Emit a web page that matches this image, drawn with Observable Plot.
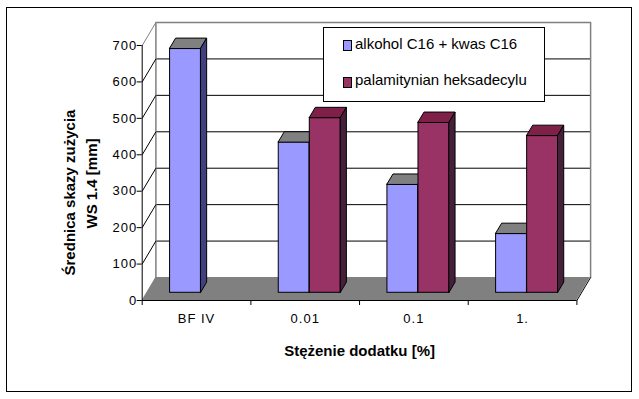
<!DOCTYPE html>
<html><head><meta charset="utf-8">
<script src="https://cdn.jsdelivr.net/npm/d3@7"></script>
<script src="https://cdn.jsdelivr.net/npm/@observablehq/plot@0.6"></script>
<style>
body{margin:0;background:#fff;font-family:"Liberation Sans",Arial,sans-serif;}
#wrap{position:relative;width:639px;height:399px;overflow:hidden;background:#fff;}
#frame{position:absolute;left:6px;top:7px;width:626px;height:385px;border:1px solid #000;box-sizing:border-box;}
#chart{position:absolute;left:0;top:0;}
#legend{position:absolute;left:323px;top:27px;width:222px;height:75px;border:1px solid #000;box-sizing:border-box;background:#fff;}
.sw{position:absolute;left:19px;width:9px;height:11px;border:1px solid #000;box-sizing:border-box;}
.lt{position:absolute;left:31px;font-size:15px;line-height:15px;white-space:nowrap;color:#000;}
g[aria-label="y-axis tick label"], g[aria-label="x-axis tick label"]{letter-spacing:1px;}
</style></head>
<body>
<div id="wrap">
  <div id="frame"></div>
  <div id="chart"></div>
  <div id="legend"></div>
</div>
<script>
const categories = ["BF IV", "0.01", "0.1", "1."];
const seriesNames = ["alkohol C16 + kwas C16", "palamitynian heksadecylu"];
const alkohol = [670, 413, 297, 162];
const palmitynian = [null, 480, 467, 431];
const yTicks = [0, 100, 200, 300, 400, 500, 600, 700];
const frontColors = ["#9999FF", "#993366"];
const topColors = ["#808080", "#7F2048"];
const sideColors = ["#404080", "#45203A"];

const W = 639, H = 399, mL = 141.7, mR = 62.6, mT = 45, mB = 99;
const PXU = (W - mL - mR) / categories.length;
const PYU = (H - mT - mB) / 700;
const DX = 13.7, DY = 23; // back wall pixel offset (3D depth)
const ox = t => t * DX / PXU, oy = t => t * DY / PYU;
const tF = 0.335, tB = 0.775;
const barW = 1 / 3.5, gap = 1.5 / 3.5;
const n = categories.length;

const bars = [];
[alkohol, palmitynian].forEach((vals, j) => vals.forEach((v, i) => {
  if (v == null) return;
  const x1 = i + gap / 2 + j * barW;
  bars.push({j, i, v, x1, x2: x1 + barW, key: j + "-" + i});
}));
const topPts = bars.flatMap(d => [
  {j: d.j, key: d.key, y: d.v + oy(tF), x1: d.x1 + ox(tF), x2: d.x2 + ox(tF)},
  {j: d.j, key: d.key, y: d.v + oy(tB), x1: d.x1 + ox(tB), x2: d.x2 + ox(tB)}
]);
const sidePts = bars.flatMap(d => [
  {j: d.j, key: d.key, x: d.x2 + ox(tF), y1: oy(tF), y2: d.v + oy(tF)},
  {j: d.j, key: d.key, x: d.x2 + ox(tB), y1: oy(tB), y2: d.v + oy(tB)}
]);

const barMarks = [0, 1].flatMap(j => [
  Plot.rect(bars.filter(d => d.j === j), {x1: d => d.x1 + ox(tF), x2: d => d.x2 + ox(tF), y1: oy(tF), y2: d => d.v + oy(tF), fill: frontColors[j], stroke: "#000", strokeWidth: 1}),
  Plot.areaX(topPts.filter(d => d.j === j), {y: "y", x1: "x1", x2: "x2", z: "key", fill: topColors[j], stroke: "#000", strokeWidth: 1}),
  Plot.areaY(sidePts.filter(d => d.j === j), {x: "x", y1: "y1", y2: "y2", z: "key", fill: sideColors[j], stroke: "#000", strokeWidth: 1})
]);

const wallTop = 700 + oy(1);
const chart = Plot.plot({
  width: W, height: H,
  marginLeft: mL, marginRight: mR, marginTop: mT, marginBottom: mB,
  x: {domain: [0, n]},
  y: {domain: [0, 700]},
  style: {fontFamily: "'Liberation Sans', Arial, sans-serif", fontSize: "13px", background: "none", overflow: "visible", color: "#000"},
  marks: [
    // floor
    Plot.areaX([{y: 0, x1: 0, x2: n}, {y: oy(1), x1: ox(1), x2: n + ox(1)}], {y: "y", x1: "x1", x2: "x2", fill: "#808080"}),
    // back wall gridlines
    Plot.ruleY(yTicks.filter(v => v > 0 && v < 700), {y: d => d + oy(1), x1: ox(1), x2: n + ox(1), stroke: "#000"}),
    // back wall border
    Plot.line([[ox(1), oy(1)], [ox(1), wallTop], [n + ox(1), wallTop], [n + ox(1), oy(1)]], {stroke: "#808080"}),
    // side wall slants
    Plot.link(yTicks.filter(v => v > 0), {x1: 0, y1: d => d, x2: ox(1), y2: d => d + oy(1), stroke: d => d === 700 ? "#808080" : "#000"}),
    ...barMarks,
    // front axis lines
    Plot.ruleX([0], {y1: 0, y2: 700, stroke: "#000"}),
    Plot.ruleY([0], {x1: 0, x2: n, stroke: "#000"}),
    Plot.link([0], {x1: n, y1: 0, x2: n + ox(1), y2: oy(1), stroke: "#000"}),
    Plot.axisY(yTicks, {tickSize: 5, tickPadding: 0, label: null, fontSize: 13}),
    Plot.axisX(d3.range(n + 1), {tickSize: 5, tickFormat: () => "", label: null}),
    Plot.axisX(d3.range(n).map(i => i + 0.5), {tickSize: 0, tickPadding: 13, tickFormat: d => categories[Math.floor(d)], label: null, fontSize: 13}),
    // axis titles
    Plot.text(["Średnica skazy zużycia"], {frameAnchor: "top-left", dx: 70 - mL, dy: 192 - mT, rotate: -90, textAnchor: "middle", lineAnchor: "middle", fontWeight: "bold", fontSize: 15}),
    Plot.text(["WS 1.4 [mm]"], {frameAnchor: "top-left", dx: 91.5 - mL, dy: 183 - mT, rotate: -90, textAnchor: "middle", lineAnchor: "middle", fontWeight: "bold", fontSize: 15}),
    Plot.text(["Stężenie dodatku [%]"], {frameAnchor: "bottom", dy: 45, lineAnchor: "top", fontWeight: "bold", fontSize: 15})
  ]
});
document.getElementById("chart").appendChild(chart);

const legend = document.getElementById("legend");
const swTops = [12, 49], txtTops = [7.6, 43.8];
seriesNames.forEach((name, j) => {
  const sw = document.createElement("div");
  sw.className = "sw"; sw.style.top = swTops[j] + "px"; sw.style.background = frontColors[j];
  const t = document.createElement("div");
  t.className = "lt"; t.style.top = txtTops[j] + "px"; t.textContent = name;
  legend.appendChild(sw); legend.appendChild(t);
});
</script>
</body></html>
